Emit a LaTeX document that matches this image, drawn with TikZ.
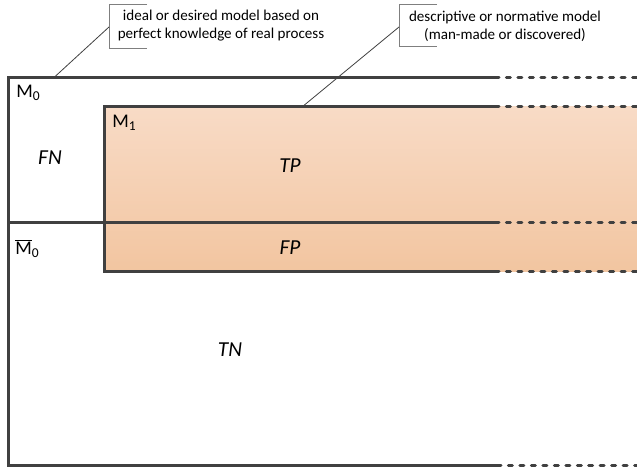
\documentclass[tikz,border=0pt]{standalone}
\usepackage{fontspec}
\setmainfont{Carlito}
\definecolor{linegray}{HTML}{404040}
\definecolor{thingray}{HTML}{7F7F7F}
\definecolor{fillTop}{HTML}{F8DBC6}
\definecolor{fillBot}{HTML}{F2C5A0}
\tikzset{
  boxline/.style={draw=linegray, line width=2.25pt, line join=miter},
  dotline/.style={draw=linegray, line width=2.25pt, line cap=round, dash pattern=on 3pt off 5.6pt},
  bracketline/.style={draw=thingray, line width=0.6pt},
  leaderline/.style={draw=linegray, line width=0.6pt},
  callout/.style={align=center, inner sep=0pt, font=\fontsize{11.3pt}{13.5pt}\selectfont},
  lbl/.style={inner sep=0pt, font=\fontsize{14.5pt}{17pt}\selectfont},
  ilbl/.style={inner sep=0pt, font=\fontsize{16pt}{19pt}\selectfont\itshape}
}
\begin{document}
\begin{tikzpicture}[x=0.75pt,y=-0.75pt]
\useasboundingbox (0,0) rectangle (637,470);
% shaded M1 region
\shade[top color=fillTop, bottom color=fillBot] (104,107) rectangle (637,272);
% coordinates
\coordinate (otl) at (8,77.5);
\coordinate (otr) at (495,77.5);
\coordinate (ote) at (637,77.5);
\coordinate (obl) at (8,466);
\coordinate (obr) at (497,466);
\coordinate (obe) at (637,466);
\coordinate (ml) at (8,223);
\coordinate (mr) at (495,223);
\coordinate (me) at (637,223);
\coordinate (itl) at (104,107);
\coordinate (itr) at (495,107);
\coordinate (ite) at (637,107);
\coordinate (ibl) at (104,272);
\coordinate (ibr) at (495,272);
\coordinate (ibe) at (637,272);
% lines
\draw[boxline] (otr) -- (otl) -- (obl) -- (obr);
\draw[dotline] (otr) -- (ote);
\draw[dotline] (obr) -- (obe);
\draw[boxline] (ml) -- (mr);
\draw[dotline] (mr) -- (me);
\draw[boxline] (itr) -- (itl) -- (ibl) -- (ibr);
\draw[dotline] (itr) -- (ite);
\draw[dotline] (ibr) -- (ibe);
% labels
\node[lbl, anchor=base west] (m0) at (16,97.5) {M\textsubscript{0}};
\node[lbl, anchor=base west] (m1) at (112,128) {M\textsubscript{1}};
\node[lbl, anchor=base west] (m0bar) at (15,254.5) {$\overline{\hbox{M}}$\textsubscript{0}};
\node[ilbl] (fn) at (50,158) {FN};
\node[ilbl] (tp) at (290,166) {TP};
\node[ilbl] (fp) at (290,248) {FP};
\node[ilbl] (tn) at (230,350) {TN};
% callout 1
\node[callout] (c1) at (221,26) {ideal or desired model based on\\perfect knowledge of real process};
\coordinate (b1tr) at (147,4);
\coordinate (b1tl) at (109,4);
\coordinate (b1bl) at (109,48);
\coordinate (b1br) at (147,48);
\coordinate (b1a) at (109,27);
\coordinate (t1) at (54,77.5);
\draw[bracketline] (b1tr) -- (b1tl) -- (b1bl) -- (b1br);
\draw[leaderline] (b1a) -- (t1);
% callout 2
\node[callout] (c2) at (505,26) {descriptive or normative model\\(man-made or discovered)};
\coordinate (b2tr) at (437,4);
\coordinate (b2tl) at (399,4);
\coordinate (b2bl) at (399,46);
\coordinate (b2br) at (437,46);
\coordinate (b2a) at (399,27);
\coordinate (t2) at (302,107);
\draw[bracketline] (b2tr) -- (b2tl) -- (b2bl) -- (b2br);
\draw[leaderline] (b2a) -- (t2);
\end{tikzpicture}
\end{document}
